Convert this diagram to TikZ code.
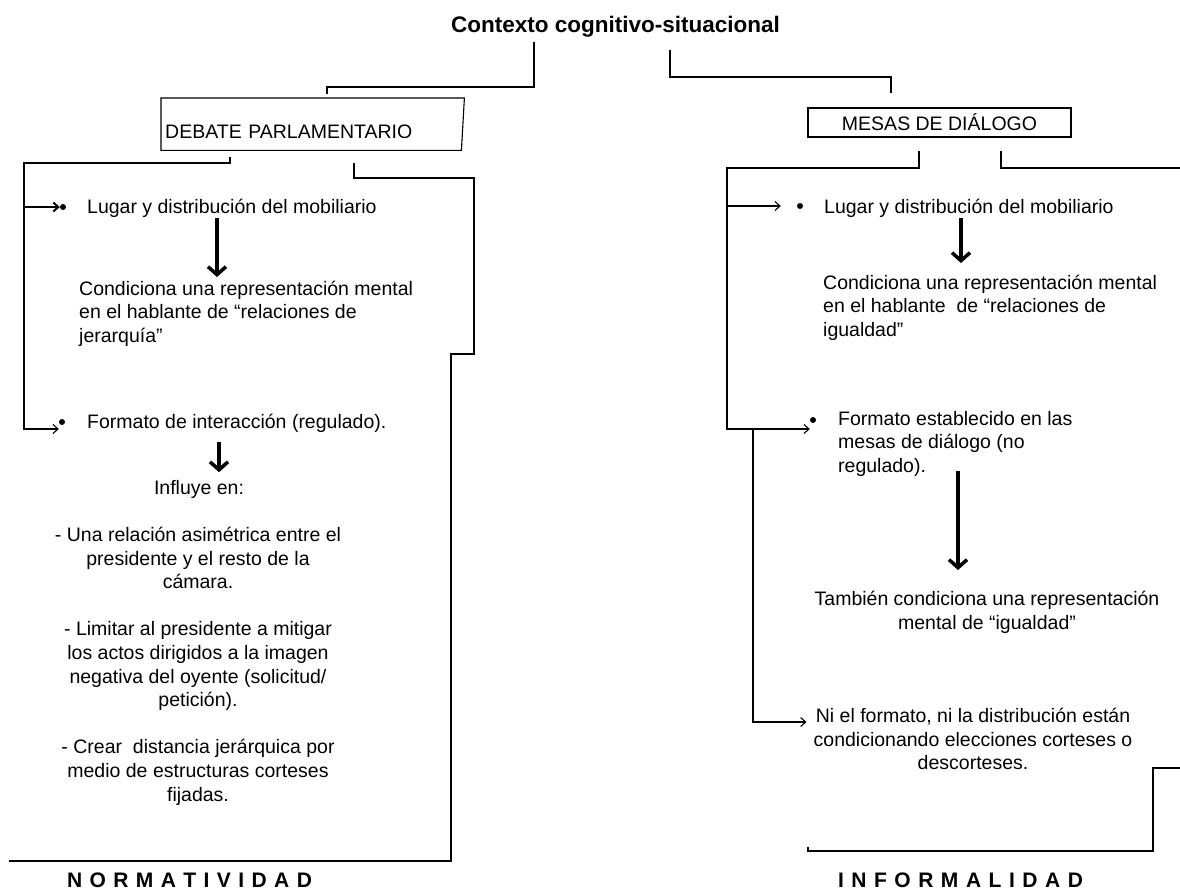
\documentclass[tikz,border=0pt]{standalone}
\usepackage{fontspec}
\setmainfont{Liberation Sans}
\usetikzlibrary{arrows.meta, positioning}

\tikzset{
	txt/.style={inner sep=0pt, font=\fontsize{19.5}{23.6}\selectfont},
	headline/.style={inner sep=0pt, font=\fontsize{21}{25}\selectfont\bfseries},
	dot/.style={circle, fill, inner sep=0pt, minimum size=6pt},
	thinline/.style={line width=1.1pt},
	boldline/.style={line width=2pt},
	thinarrow/.style={line width=1.1pt, -{Straight Barb[length=5pt,width=9pt]}},
	bigarrow/.style={line width=3.5pt, -{Straight Barb[length=8pt,width=18pt]}}
}

\begin{document}
\begin{tikzpicture}[x=1pt, y=-1pt]
	\useasboundingbox (0,0) rectangle (1180,892);
	
	% Title
	\node[txt, font=\fontsize{22.5}{27}\selectfont\bfseries, anchor=base] (title) at (615.5,32) {Contexto cognitivo-situacional};
	
	% Boxes
	\node[txt, anchor=north west, text width=295pt, align=left, inner xsep=4pt, text height=40pt, text depth=12pt] (debate) at (161,98) {DEBATE PARLAMENTARIO};
	\draw[thinline] (debate.north west) -- (debate.north east) -- ([xshift=-3pt]debate.south east) -- (debate.south west) -- cycle;
	\node[txt, draw, thinline, minimum width=263pt, minimum height=29pt] (mesas) at (939.5,122.5) {MESAS DE DIÁLOGO};
	
	\draw[thinline, shorten <=5pt, shorten >=4pt] (title.south -| 534,0) |- (327,87) -- (debate.north -| 327,0);
	\draw[thinline, shorten <=13pt, shorten >=14pt] (title.south -| 670,0) |- (891,77) -- (mesas.north -| 891,0);
	
	% Debate parlamentario
	\node[dot] (dotLL) at (63,207) {};
	\node[txt, anchor=base west] (lugarL) at (87,213) {Lugar y distribución del mobiliario};
	\node[txt, anchor=north west, align=left] (condL) at (79,280.5) {Condiciona una representación mental\\en el hablante de “relaciones de\\jerarquía”};
	\node[dot] (dotFL) at (62,422) {};
	\node[txt, anchor=base west] (formL) at (87,428.5) {Formato de interacción (regulado).};
	\node[txt, anchor=base] (influyeL) at (199,494.5) {Influye en:};
	\node[txt, anchor=north, align=center] (effectsL) at (198,527) {- Una relación asimétrica entre el\\presidente y el resto de la\\cámara.\\[23.6pt]- Limitar al presidente a mitigar\\los actos dirigidos a la imagen\\negativa del oyente (solicitud/\\petición).\\[23.6pt]- Crear\ \ distancia jerárquica por\\medio de estructuras corteses\\fijadas.};
	\node[headline, anchor=base] (normat) at (189.5,887.5) {\makebox[245pt][s]{N O R M A T I V I D A D}};
	
	\draw[boldline, shorten <=7pt] (debate.south -| 230,0) |- (24,163) -- (24,248);
	\draw[boldline, -{Straight Barb[length=5pt,width=9pt]}] (dotLL -| 24,0) -- (dotLL);
	\draw[thinarrow] (24,248) |- (dotFL.west |- 0,429);
	\draw[thinline, shorten <=13pt] (debate.south -| 354,0) |- (474,178) |- (451,354) -- (451,861) -- (9,861);
	\draw[bigarrow, shorten <=1pt, shorten >=3.5pt] (lugarL.south -| 217,0) -- (condL.north -| 217,0);
	\draw[bigarrow, shorten <=9pt, shorten >=8pt] (formL.south -| 219,0) -- (influyeL.north -| 219,0);
	
	% Mesas de dialogo
	\node[dot] (dotLR) at (800,206) {};
	\node[txt, anchor=base west] (lugarR) at (824,213) {Lugar y distribución del mobiliario};
	\node[txt, anchor=north west, align=left] (condR) at (823,274.5) {Condiciona una representación mental\\en el hablante\ \ de “relaciones de\\igualdad”};
	\node[dot] (dotFR) at (813,420) {};
	\node[txt, anchor=north west, align=left] (formR) at (838,411) {Formato establecido en las\\mesas de diálogo (no\\regulado).};
	\node[txt, anchor=north, align=center] (tambienR) at (987,591) {También condiciona una representación\\mental de “igualdad”};
	\node[txt, anchor=north, align=center] (nielR) at (973,708) {Ni el formato, ni la distribución están\\condicionando elecciones corteses o\\descorteses.};
	\node[headline, anchor=base] (informal) at (960.5,887.5) {\makebox[245pt][s]{I N F O R M A L I D A D}};
	\coordinate (fork) at (753,429);
	
	\draw[thinarrow, shorten <=13pt] (mesas.south -| 919,0) |- (727,168) |- (dotFR.west |- 0,429);
	\draw[thinarrow, shorten >=16pt] (dotLR -| 727,0) -- (dotLR);
	\draw[thinarrow, shorten >=7pt] (fork) |- (nielR.west |- 0,722);
	\draw[thinline, shorten <=13pt] (mesas.south -| 1001,0) |- (1180,168);
	\draw[thinline] (1180,768) -| (1153,851) -| (808,847);
	\draw[bigarrow, shorten <=1pt, shorten >=11.5pt] (lugarR.south -| 961,0) -- (condR.north -| 961,0);
	\draw[bigarrow, shorten <=-6pt, shorten >=21pt] (formR.south -| 958,0) -- (tambienR.north -| 958,0);
\end{tikzpicture}
\end{document}
